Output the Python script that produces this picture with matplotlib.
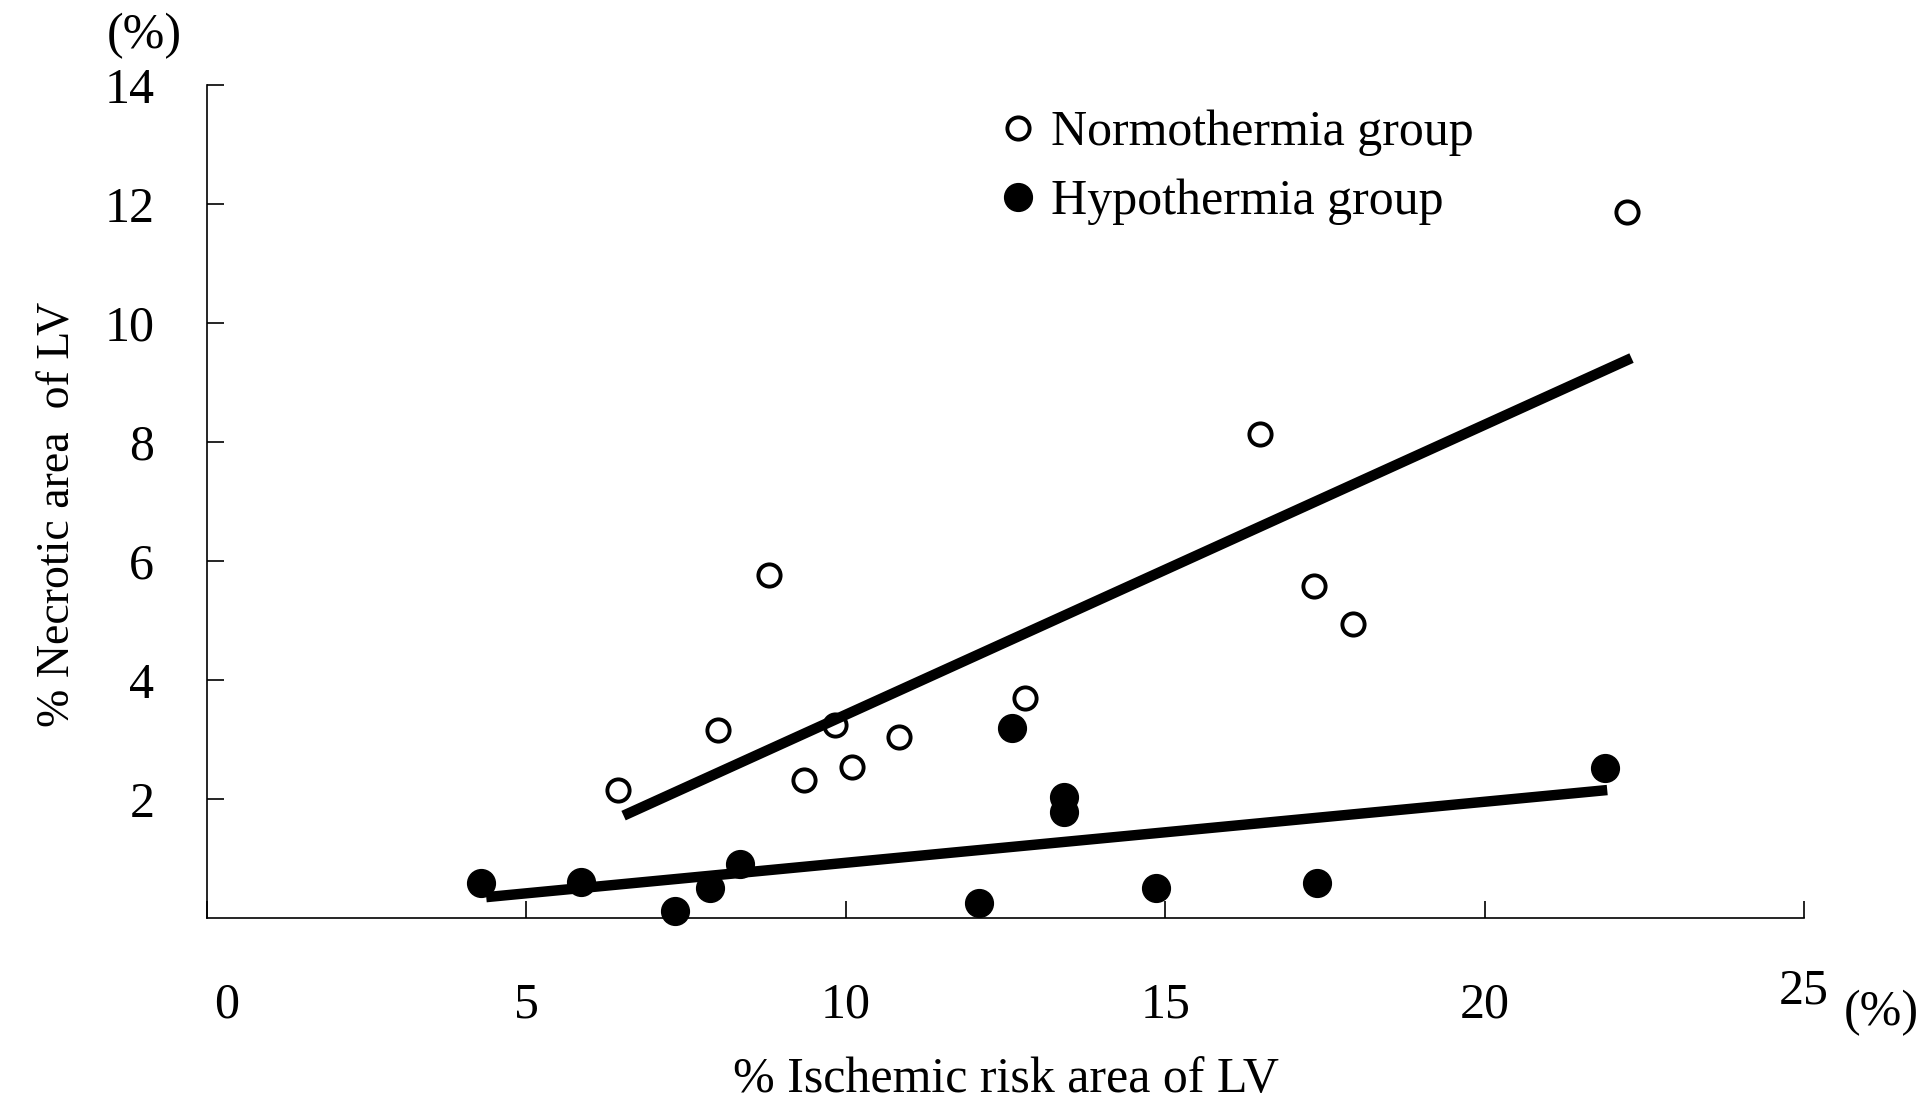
import matplotlib.pyplot as plt
from matplotlib.transforms import ScaledTranslation

plt.rcParams['font.family'] = ['Liberation Serif', 'DejaVu Serif']

# Normothermia group (open circles)
normo_x = [6.44, 8.00, 8.79, 9.35, 9.83, 10.10, 10.83, 12.81, 16.48, 17.33, 17.94, 22.23]
normo_y = [2.15, 3.16, 5.77, 2.32, 3.25, 2.54, 3.04, 3.70, 8.13, 5.58, 4.94, 11.87]

# Hypothermia group (filled circles)
hypo_x = [4.29, 5.85, 7.33, 7.87, 8.35, 12.08, 12.60, 13.42, 13.42, 14.85, 17.37, 21.88]
hypo_y = [0.58, 0.60, 0.12, 0.50, 0.91, 0.25, 3.20, 2.03, 1.78, 0.50, 0.58, 2.52]

# regression lines, end points
normo_fit_x = [6.52, 22.30]
normo_fit_y = [1.72, 9.41]
hypo_fit_x = [4.37, 21.92]
hypo_fit_y = [0.35, 2.15]

x_ticks = [0, 5, 10, 15, 20, 25]
y_ticks = [2, 4, 6, 8, 10, 12, 14]

fig = plt.figure(figsize=(19.3, 11.02), dpi=100)
ax = fig.add_axes([0.1073, 0.167, 0.8274, 0.7559])

ax.plot(normo_fit_x, normo_fit_y, color='black', lw=7.5, solid_capstyle='butt', zorder=2)
ax.plot(hypo_fit_x, hypo_fit_y, color='black', lw=7.5, solid_capstyle='butt', zorder=2)

ax.plot(normo_x, normo_y, 'o', ms=16, mfc='none', mec='black', mew=2.8,
        clip_on=False, zorder=3, label='Normothermia group')
ax.plot(hypo_x, hypo_y, 'o', ms=20, mfc='black', mec='black',
        clip_on=False, zorder=3, label='Hypothermia group')

ax.set_xlim(0, 25)
ax.set_ylim(0, 14)
ax.set_xticks(x_ticks)
ax.set_yticks(y_ticks)
ax.spines['top'].set_visible(False)
ax.spines['right'].set_visible(False)
for s in ('left', 'bottom'):
    ax.spines[s].set_linewidth(1.2)
ax.tick_params(direction='in', length=12, width=1.2, labelsize=36)
ax.tick_params(axis='x', pad=46)
ax.tick_params(axis='y', pad=38)

# the "0" sits a little right of the corner, the "25" a little higher
xt = ax.xaxis.get_major_ticks()
for t, (dx, dy) in ((xt[0], (14, 0)), (xt[-1], (0, 10))):
    t.label1.set_transform(t.label1.get_transform()
                           + ScaledTranslation(dx / 72, dy / 72, fig.dpi_scale_trans))

ax.set_xlabel('% Ischemic risk area of LV', fontsize=36, labelpad=20)
ax.set_ylabel('% Necrotic area  of LV', fontsize=33, labelpad=18, y=0.484)

fig.text(0.075, 0.967, '(%)', fontsize=36, ha='center', va='center')
fig.text(0.975, 0.081, '(%)', fontsize=36, ha='center', va='center')

leg = ax.legend(loc='upper left', bbox_to_anchor=(0.483, 1.0), frameon=False,
                fontsize=36, handlelength=0.6, handletextpad=0.35,
                labelspacing=0.45, markerscale=1.0, borderpad=0)

fig.savefig('out.png', dpi=100)
